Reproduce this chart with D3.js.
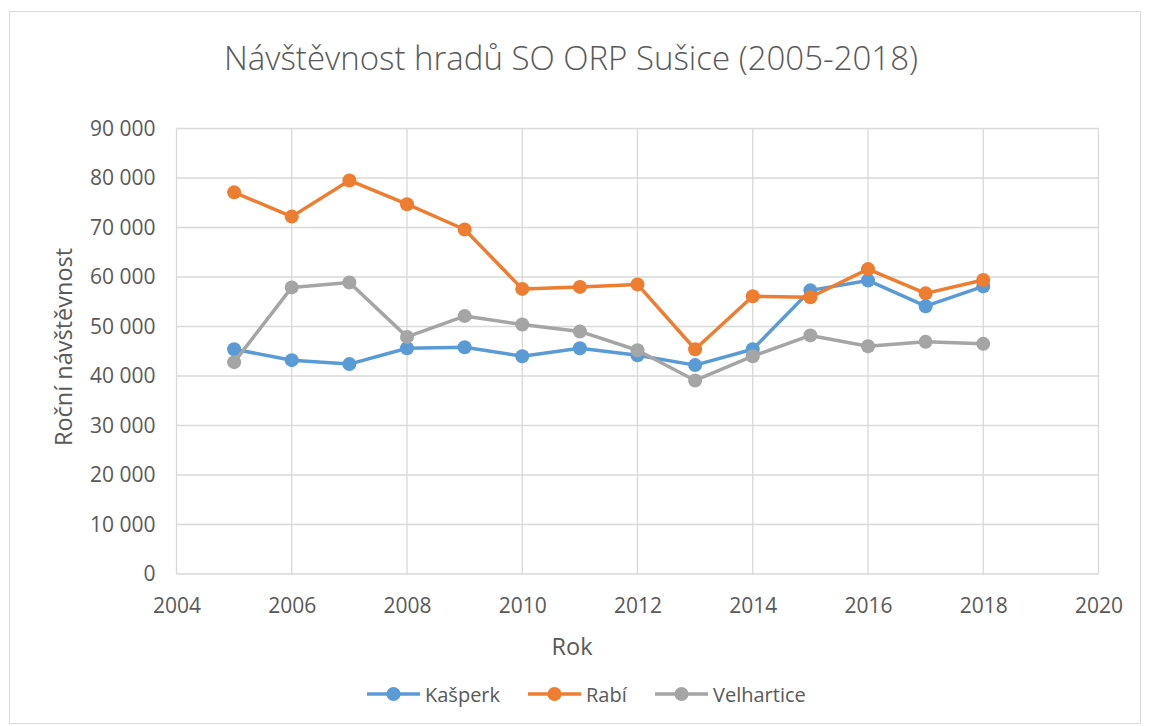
<!DOCTYPE html>
<html><head><meta charset="utf-8">
<script src="https://cdn.jsdelivr.net/npm/d3@7/dist/d3.min.js"></script>
<style>body{margin:0;background:#fff}text{font-family:"Open Sans","Noto Sans",sans-serif;fill:#595959}</style>
</head><body>
<svg id="c" width="1151" height="726"></svg>
<script>
const years = [2005,2006,2007,2008,2009,2010,2011,2012,2013,2014,2015,2016,2017,2018];
const kasperk = [45400,43200,42400,45600,45800,44000,45600,44200,42200,45400,57300,59300,54100,58100];
const rabi = [77100,72200,79500,74700,69600,57600,58000,58500,45400,56100,55900,61600,56700,59400];
const velhartice = [42800,57900,58900,47900,52100,50400,49000,45200,39100,44000,48200,46000,46900,46500];
const seriesNames = ["Kašperk","Rabí","Velhartice"];
const colors = ["#5b9bd5","#ed7d31","#a5a5a5"];
const xTicks = [2004,2006,2008,2010,2012,2014,2016,2018,2020];
const yTicks = [0,10000,20000,30000,40000,50000,60000,70000,80000,90000];

const svg = d3.select("#c");
svg.append("rect").attr("x",9.5).attr("y",11.5).attr("width",1131).attr("height",712)
  .attr("fill","#fff").attr("stroke","#d9d9d9");

const L=176.5,R=1098.5,T=128.5,B=574;
const x = d3.scaleLinear().domain([2004,2020]).range([L,R]);
const y = d3.scaleLinear().domain([0,90000]).range([B,T]);

const g = svg.append("g");
g.selectAll(".hg").data(yTicks).join("line").attr("x1",L).attr("x2",R)
  .attr("y1",d=>y(d)).attr("y2",d=>y(d)).attr("stroke","#d9d9d9").attr("stroke-width",1.3);
g.selectAll(".vg").data(xTicks).join("line").attr("y1",T).attr("y2",B)
  .attr("x1",d=>x(d)).attr("x2",d=>x(d)).attr("stroke","#d9d9d9").attr("stroke-width",1.3);

const fmt = d => d3.format(",")(d).replace(/,/g," ");
const ya = d3.axisLeft(y).tickValues(yTicks).tickFormat(fmt).tickSize(0).tickPadding(21);
const yg = svg.append("g").attr("transform",`translate(${L},0)`).call(ya);
yg.select(".domain").remove();
yg.attr("font-size",null).attr("font-family",null);
yg.selectAll("text").style("font-size","21px").attr("fill","#595959");
const xa = d3.axisBottom(x).tickValues(xTicks).tickFormat(d3.format("d")).tickSize(0).tickPadding(24);
const xg = svg.append("g").attr("transform",`translate(0,${B})`).call(xa);
xg.select(".domain").remove();
xg.attr("font-size",null).attr("font-family",null);
xg.selectAll("text").style("font-size","21px").attr("fill","#595959");

const data = [kasperk,rabi,velhartice];
const line = d3.line().x((d,i)=>x(years[i])).y(d=>y(d));
data.forEach((s,k)=>{
  svg.append("path").datum(s).attr("d",line).attr("fill","none")
    .attr("stroke",colors[k]).attr("stroke-width",3.5).attr("stroke-linejoin","round");
  svg.selectAll(null).data(s).join("circle").attr("cx",(d,i)=>x(years[i])).attr("cy",d=>y(d))
    .attr("r",7).attr("fill",colors[k]);
});

svg.append("text").attr("x",571).attr("y",70).attr("text-anchor","middle")
  .style("font-size","33px").style("font-weight","300").text("Návštěvnost hradů SO ORP Sušice (2005-2018)");
svg.append("text").attr("x",572).attr("y",655).attr("text-anchor","middle")
  .style("font-size","23.5px").text("Rok");
svg.append("text").attr("transform","translate(72,347) rotate(-90)").attr("text-anchor","middle")
  .style("font-size","23.5px").text("Roční návštěvnost");

const legX = [367,528,655];
seriesNames.forEach((n,k)=>{
  const lg = svg.append("g").attr("transform",`translate(${legX[k]},694)`);
  lg.append("line").attr("x1",0).attr("x2",53).attr("stroke",colors[k]).attr("stroke-width",3.5);
  lg.append("circle").attr("cx",26.5).attr("r",7).attr("fill",colors[k]);
  lg.append("text").attr("x",58).attr("y",8).style("font-size","20px").text(n);
});
</script>
</body></html>
